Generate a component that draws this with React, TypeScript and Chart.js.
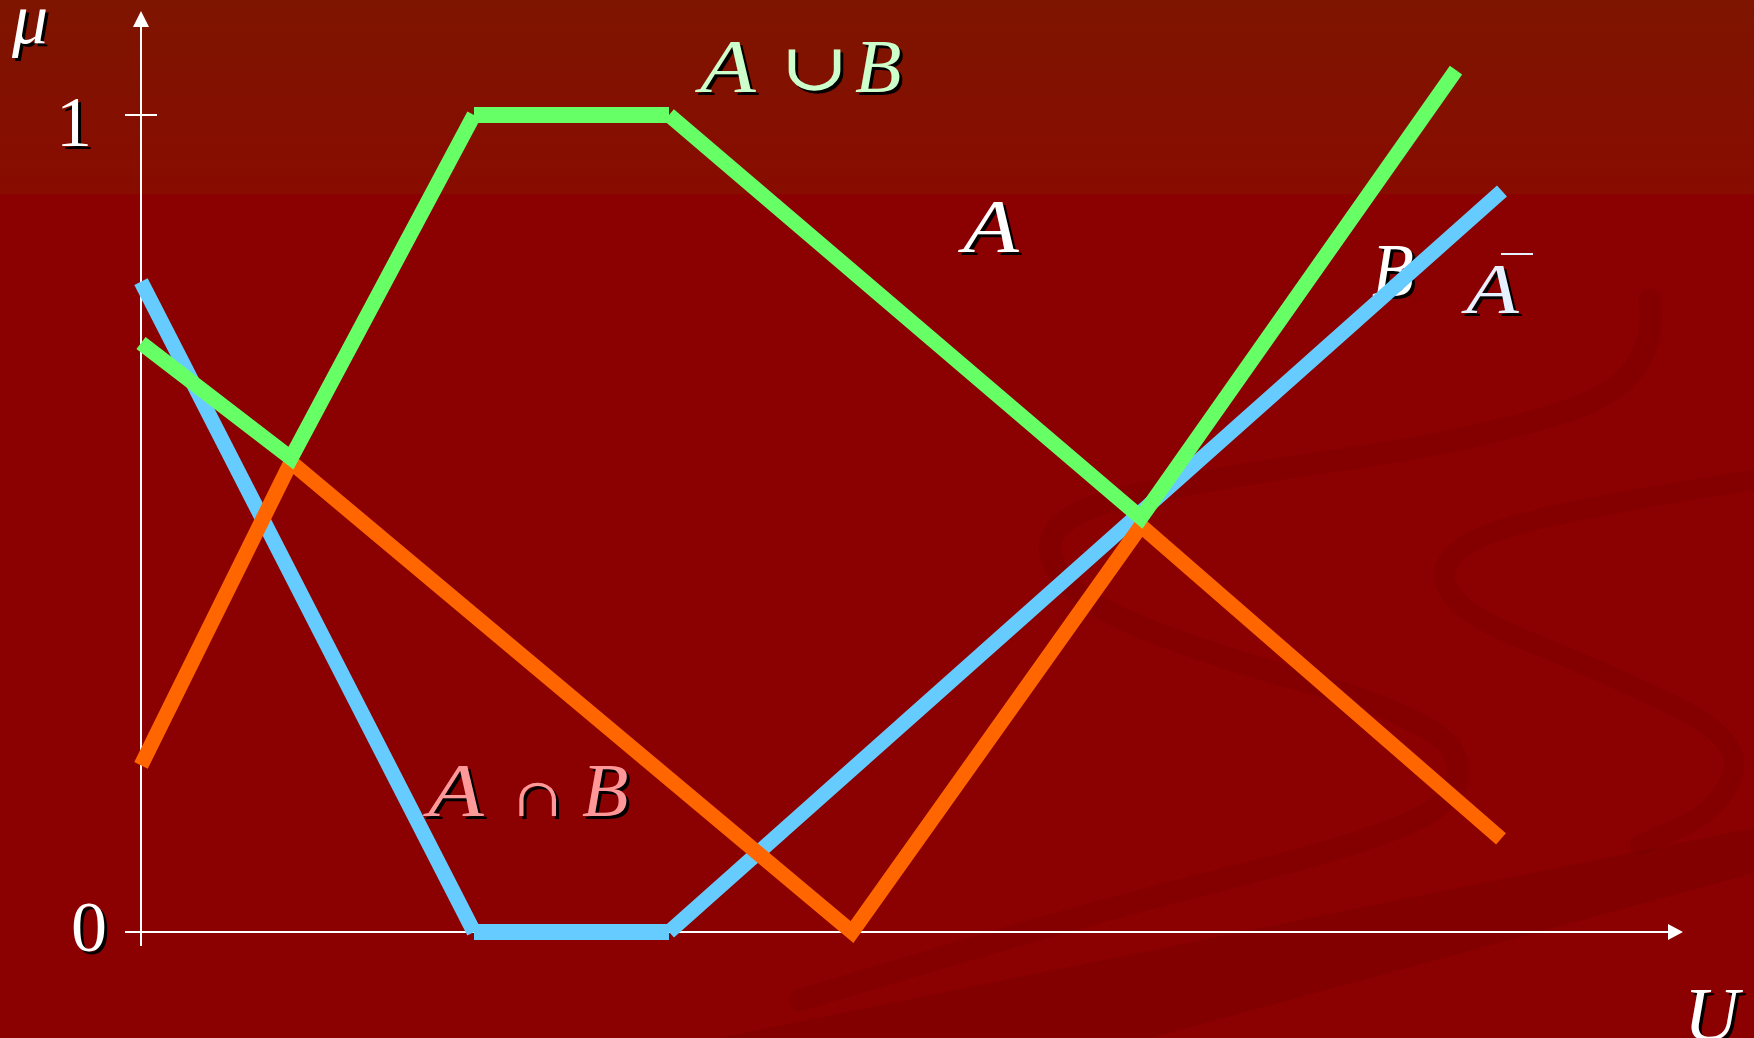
import React, { useEffect, useRef } from "react";
import { Chart, registerables } from "chart.js";

Chart.register(...registerables);

// Universe positions (U) and membership grades (μ)
const unionX = [0, 1.5, 3.33, 5.28, 10.0, 13.15];
const unionY = [0.721, 0.58, 1, 1, 0.507, 1.055];

const interX = [0, 1.5, 7.11, 10.0, 13.6];
const interY = [0.204, 0.575, 0.0, 0.497, 0.114];

const complX = [0, 3.33, 5.28, 13.61];
const complY = [0.796, 0, 0, 0.907];

const yTicks = ["0", "1"];
const seriesNames = ["A ∪ B", "A ∩ B", "Ā"];

const W = 1754;
const H = 1038;

function pts(xs: number[], ys: number[]) {
  return xs.map((x, i) => ({ x, y: ys[i] }));
}

const SERIF = '"Liberation Serif", "DejaVu Serif", serif';

function drawText(
  ctx: CanvasRenderingContext2D,
  t: string,
  x: number,
  y: number,
  size: number,
  color: string,
  italic = true,
  sx = 1
) {
  ctx.save();
  ctx.translate(x, y);
  ctx.scale(sx, 1);
  ctx.font = `${italic ? "italic " : ""}${size}px ${SERIF}`;
  ctx.textBaseline = "alphabetic";
  ctx.textAlign = "left";
  ctx.shadowColor = "#000000";
  ctx.shadowOffsetX = 3;
  ctx.shadowOffsetY = 3;
  ctx.shadowBlur = 0;
  ctx.fillStyle = color;
  ctx.fillText(t, 0, 0);
  ctx.restore();
}

function curve(ctx: CanvasRenderingContext2D, p: number[][]) {
  ctx.beginPath();
  ctx.moveTo(p[0][0], p[0][1]);
  for (let i = 1; i < p.length - 1; i++) {
    const mx = (p[i][0] + p[i + 1][0]) / 2;
    const my = (p[i][1] + p[i + 1][1]) / 2;
    ctx.quadraticCurveTo(p[i][0], p[i][1], mx, my);
  }
  const l = p[p.length - 1];
  ctx.lineTo(l[0], l[1]);
}

const decor = {
  id: "decor",
  beforeDraw(chart: any) {
    const ctx: CanvasRenderingContext2D = chart.ctx;
    ctx.save();
    ctx.fillStyle = "#8b0000";
    ctx.fillRect(0, 0, W, H);
    const g = ctx.createLinearGradient(0, 0, 0, 194);
    g.addColorStop(0, "#7e1500");
    g.addColorStop(1, "#880c00");
    ctx.fillStyle = g;
    ctx.fillRect(0, 0, W, 194);

    // subtle swirl decorations
    ctx.fillStyle = "rgba(110,0,0,0.3)";
    ctx.beginPath();
    ctx.moveTo(720, 1038);
    ctx.lineTo(1754, 828);
    ctx.lineTo(1754, 873);
    ctx.lineTo(1150, 1038);
    ctx.closePath();
    ctx.fill();

    ctx.strokeStyle = "rgba(110,0,0,0.22)";
    ctx.lineCap = "round";
    ctx.lineWidth = 22;
    curve(ctx, [
      [1650, 300], [1660, 380], [1480, 440], [1200, 480], [1050, 515], [1050, 580], [1160, 640],
      [1440, 720], [1470, 790], [1380, 840], [1100, 910], [800, 1000],
    ]);
    ctx.stroke();
    ctx.lineWidth = 20;
    curve(ctx, [
      [1754, 480], [1560, 510], [1440, 550], [1450, 610], [1600, 670], [1745, 740], [1720, 810], [1640, 845],
    ]);
    ctx.stroke();
    ctx.restore();
  },
  beforeDatasetsDraw(chart: any) {
    const ctx: CanvasRenderingContext2D = chart.ctx;
    const xs = chart.scales.x;
    const ys = chart.scales.y;
    const x0 = xs.getPixelForValue(0);
    const y0 = ys.getPixelForValue(0);
    const y1 = ys.getPixelForValue(1);
    const xEnd = xs.right;
    const yTop = ys.top;
    ctx.save();
    ctx.strokeStyle = "#ffffff";
    ctx.fillStyle = "#ffffff";
    ctx.lineWidth = 2;
    // y axis
    ctx.beginPath();
    ctx.moveTo(x0, y0 + 14);
    ctx.lineTo(x0, yTop + 14);
    ctx.stroke();
    ctx.beginPath();
    ctx.moveTo(x0, yTop);
    ctx.lineTo(x0 - 8, yTop + 16);
    ctx.lineTo(x0 + 8, yTop + 16);
    ctx.closePath();
    ctx.fill();
    // x axis
    ctx.beginPath();
    ctx.moveTo(x0 - 16, y0);
    ctx.lineTo(xEnd - 14, y0);
    ctx.stroke();
    ctx.beginPath();
    ctx.moveTo(xEnd, y0);
    ctx.lineTo(xEnd - 15, y0 - 8);
    ctx.lineTo(xEnd - 15, y0 + 8);
    ctx.closePath();
    ctx.fill();
    // tick at 1
    ctx.beginPath();
    ctx.moveTo(x0 - 16, y1);
    ctx.lineTo(x0 + 16, y1);
    ctx.stroke();
    ctx.restore();

    // axis texts
    drawText(ctx, "μ", 12, 43, 72, "#ffffff", true);
    drawText(ctx, yTicks[1], 56, y1 + 31, 72, "#ffffff", false);
    drawText(ctx, yTicks[0], 71, y0 + 19, 72, "#ffffff", false);
    drawText(ctx, "U", 1684, 1040, 76, "#ffffff", true);

    // series labels
    drawText(ctx, "A", 700, 92, 76, "#ccffcc", true, 1.2);
    drawText(ctx, seriesNames[0].charAt(2), 780, 90, 66, "#ccffcc", false, 1.25);
    drawText(ctx, "B", 855, 92, 76, "#ccffcc", true);

    drawText(ctx, "A", 428, 816, 76, "#ff9999", true, 1.2);
    drawText(ctx, seriesNames[1].charAt(2), 508, 816, 66, "#ff9999", false, 1.25);
    drawText(ctx, "B", 582, 816, 76, "#ff9999", true);

    drawText(ctx, "A", 963, 252, 76, "#ffffff", true, 1.2);
    drawText(ctx, "B", 1372, 296, 76, "#ffffff", true, 0.9);
    drawText(ctx, "A", 1466, 313, 72, "#e6f0ff", true, 1.2);
    ctx.save();
    ctx.strokeStyle = "#e6f0ff";
    ctx.lineWidth = 2;
    ctx.beginPath();
    ctx.moveTo(1501, 254);
    ctx.lineTo(1533, 254);
    ctx.stroke();
    ctx.restore();
  },
};

export default function App() {
  const ref = useRef<HTMLCanvasElement>(null);
  useEffect(() => {
    if (!ref.current) return;
    const seg = {
      borderWidth: (c: any) => (c.p0.parsed.y === c.p1.parsed.y ? 16 : 15),
    };
    const chart = new Chart(ref.current, {
      type: "line",
      data: {
        datasets: [
          {
            label: seriesNames[0],
            data: pts(unionX, unionY),
            borderColor: "#66ff66",
            borderWidth: 15,
            pointRadius: 0,
            clip: false as any,
            segment: seg as any,
          },
          {
            label: seriesNames[1],
            data: pts(interX, interY),
            borderColor: "#ff6600",
            borderWidth: 15,
            pointRadius: 0,
            clip: false as any,
            segment: seg as any,
          },
          {
            label: seriesNames[2],
            data: pts(complX, complY),
            borderColor: "#66ccff",
            borderWidth: 15,
            pointRadius: 0,
            clip: false as any,
            segment: seg as any,
          },
        ],
      },
      options: {
        animation: false,
        responsive: false,
        maintainAspectRatio: false,
        devicePixelRatio: 1,
        layout: { padding: { left: 141, right: 71, top: 11, bottom: 106 } },
        plugins: { legend: { display: false }, tooltip: { enabled: false }, title: { display: false } },
        elements: { line: { tension: 0, borderJoinStyle: "miter", borderCapStyle: "butt" } },
        scales: {
          x: { type: "linear", min: 0, max: 15.42, display: false },
          y: { type: "linear", min: 0, max: 1.1273, display: false },
        },
      },
      plugins: [decor],
    });
    return () => chart.destroy();
  }, []);
  return (
    <div style={{ position: "fixed", left: 0, top: 0, width: W, height: H, overflow: "hidden" }}>
      <canvas ref={ref} width={W} height={H} style={{ display: "block", width: W, height: H }} />
    </div>
  );
}
